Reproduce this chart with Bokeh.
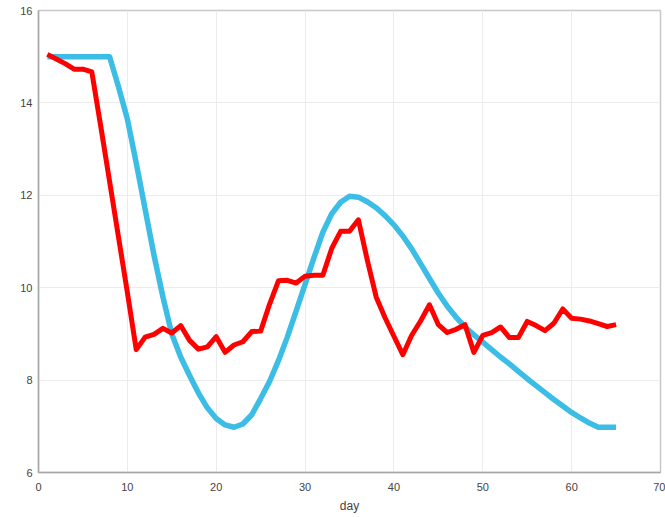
from bokeh.plotting import figure
from bokeh.models import Range1d, FixedTicker
from bokeh.embed import file_html
from bokeh.resources import INLINE

days = list(range(1, 66))

red_values = [15.05, 14.95, 14.85, 14.73, 14.73, 14.67, 13.5, 12.3, 11.1, 9.9,
              8.66, 8.93, 8.99, 9.12, 9.02, 9.18, 8.86, 8.67, 8.72, 8.94,
              8.6, 8.76, 8.83, 9.05, 9.06, 9.64, 10.15, 10.16, 10.1, 10.25,
              10.27, 10.27, 10.85, 11.22, 11.22, 11.47, 10.6, 9.8, 9.35, 8.95,
              8.55, 8.97, 9.28, 9.63, 9.2, 9.03, 9.1, 9.2, 8.6, 8.97,
              9.03, 9.15, 8.92, 8.92, 9.27, 9.18, 9.07, 9.23, 9.54, 9.34,
              9.32, 9.28, 9.22, 9.16, 9.2]

blue_values = [15.0, 15.0, 15.0, 15.0, 15.0, 15.0, 15.0, 15.0, 14.35, 13.65,
               12.7, 11.7, 10.7, 9.8, 9.0, 8.5, 8.1, 7.72, 7.4, 7.17,
               7.03, 6.98, 7.05, 7.25, 7.6, 7.97, 8.42, 8.93, 9.5, 10.07,
               10.65, 11.2, 11.6, 11.85, 11.98, 11.96, 11.86, 11.73, 11.56, 11.36,
               11.12, 10.84, 10.52, 10.2, 9.88, 9.6, 9.36, 9.15, 8.98, 8.82,
               8.66, 8.5, 8.35, 8.19, 8.03, 7.88, 7.73, 7.58, 7.44, 7.3,
               7.18, 7.07, 6.98, 6.98, 6.98]

x_ticks = [0, 10, 20, 30, 40, 50, 60, 70]
y_ticks = [6, 8, 10, 12, 14, 16]

p = figure(output_backend="svg", toolbar_location=None,
           frame_width=622, frame_height=462,
           min_border_left=38, min_border_right=5,
           min_border_top=10, min_border_bottom=45,
           x_range=Range1d(0, 70), y_range=Range1d(6, 16))

p.line(days, blue_values, line_color="#3bbde6", line_width=5.5, line_join="round")
p.line(days, red_values, line_color="#ff0000", line_width=5, line_join="round")

p.xaxis.ticker = FixedTicker(ticks=x_ticks)
p.yaxis.ticker = FixedTicker(ticks=y_ticks)
p.xaxis.axis_label = "day"

for ax in (p.xaxis[0], p.yaxis[0]):
    ax.major_tick_line_color = None
    ax.minor_tick_line_color = None
    ax.major_tick_out = 0
    ax.major_tick_in = 0
    ax.minor_tick_out = 0
    ax.axis_line_color = "#a8a8a8"
    ax.axis_line_width = 1.5
    ax.major_label_text_font = "Liberation Sans"
    ax.major_label_text_font_size = "11px"
    ax.major_label_text_color = "#444444"

p.xaxis.major_label_standoff = 10
p.yaxis.major_label_standoff = 6
p.xaxis.axis_label_text_font = "Liberation Sans"
p.xaxis.axis_label_text_font_size = "12px"
p.xaxis.axis_label_text_font_style = "normal"
p.xaxis.axis_label_text_color = "#444444"
p.xaxis.axis_label_standoff = 5

p.xgrid.grid_line_color = "#ececec"
p.ygrid.grid_line_color = "#ececec"
p.outline_line_color = "#c8c8c8"
p.outline_line_width = 1.5
p.background_fill_color = "white"
p.border_fill_color = "white"

open("out.html", "w").write(file_html(p, INLINE))
